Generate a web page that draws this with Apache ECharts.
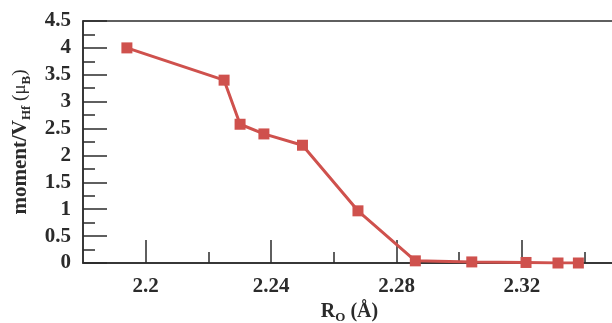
<!DOCTYPE html>
<html>
<head>
<meta charset="utf-8">
<script src="https://cdn.jsdelivr.net/npm/echarts@6/dist/echarts.min.js"></script>
<style>
  html, body { margin: 0; padding: 0; background: #ffffff; }
  #chart { width: 612px; height: 323px; }
</style>
</head>
<body>
<div id="chart"></div>
<script>
// Hf-site moment versus O distance
const rO = [2.194, 2.225, 2.2301, 2.2377, 2.250, 2.2677, 2.286, 2.304, 2.3213, 2.3315, 2.338];
const moment = [4.0, 3.40, 2.58, 2.40, 2.19, 0.97, 0.04, 0.02, 0.01, 0.0, 0.0];
const xMajorTicks = [2.2, 2.24, 2.28, 2.32];
const xMinorTicks = [2.22, 2.26, 2.30, 2.34];

const ink = '#2b2b2b';
const serif = '"Liberation Serif", "DejaVu Serif", serif';
const lineColor = '#cf514d';

const chart = echarts.init(document.getElementById('chart'), null, { renderer: 'canvas' });

chart.setOption({
  animation: false,
  backgroundColor: '#ffffff',
  grid: {
    left: 83, top: 21, bottom: 60, right: -4,
    outerBoundsMode: 'none', containLabel: false,
    show: true, borderColor: ink, borderWidth: 1.5, backgroundColor: 'transparent'
  },
  xAxis: [
    {
      type: 'value', min: 2.18, max: 2.35,
      name: '{b|R}{sub|O}{b| (Å)}',
      nameLocation: 'middle', nameGap: 36,
      nameTextStyle: {
        rich: {
          b: { fontFamily: serif, fontWeight: 'bold', fontSize: 20, color: ink },
          sub: { fontFamily: serif, fontWeight: 'bold', fontSize: 13, color: ink, verticalAlign: 'bottom', padding: [12, 0, 0, 0] }
        }
      },
      axisLine: { show: true, lineStyle: { color: ink, width: 1.5 } },
      axisTick: { show: true, inside: true, length: 23, customValues: xMajorTicks, lineStyle: { color: ink, width: 1.5 } },
      axisLabel: {
        customValues: xMajorTicks, margin: 13,
        fontFamily: serif, fontWeight: 'bold', fontSize: 21, color: ink,
        formatter: v => String(Math.round(v * 100) / 100)
      },
      splitLine: { show: false }
    },
    {
      type: 'value', min: 2.18, max: 2.35, position: 'bottom',
      axisLine: { show: false },
      axisTick: { show: true, inside: true, length: 11, customValues: xMinorTicks, lineStyle: { color: ink, width: 1.5 } },
      axisLabel: { show: false },
      splitLine: { show: false }
    }
  ],
  yAxis: {
    type: 'value', min: 0, max: 4.5, interval: 0.5,
    name: '{b|moment/V}{sub|Hf}{p| (μ}{sub|B}{p|)}',
    nameLocation: 'middle', nameGap: 50, nameRotate: 90,
    nameTextStyle: {
      rich: {
        b: { fontFamily: serif, fontWeight: 'bold', fontSize: 21, color: ink },
        p: { fontFamily: serif, fontWeight: 'normal', fontSize: 19, color: ink },
        sub: { fontFamily: serif, fontWeight: 'bold', fontSize: 13, color: ink, verticalAlign: 'bottom', padding: [12, 0, 0, 0] }
      }
    },
    axisLine: { show: true, lineStyle: { color: ink, width: 1.5 } },
    axisTick: { show: true, inside: true, length: 24, lineStyle: { color: ink, width: 1.5 } },
    minorTick: { show: true, splitNumber: 2, length: 12, lineStyle: { color: ink, width: 1.5 } },
    axisLabel: { margin: 12, fontFamily: serif, fontWeight: 'bold', fontSize: 21, color: ink },
    splitLine: { show: false }
  },
  series: [{
    type: 'line',
    data: rO.map((x, i) => [x, moment[i]]),
    symbol: 'rect', symbolSize: 11,
    lineStyle: { color: lineColor, width: 3 },
    itemStyle: { color: lineColor },
    z: 3
  }]
});
</script>
</body>
</html>
